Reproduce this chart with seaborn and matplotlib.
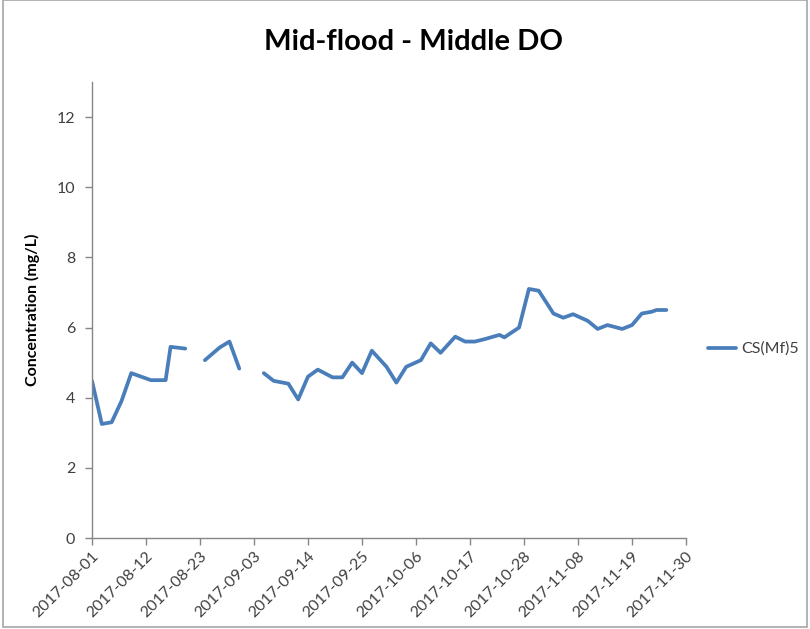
import matplotlib
matplotlib.use("Agg")
import matplotlib.pyplot as plt
from matplotlib.lines import Line2D
from matplotlib.patches import Rectangle
import seaborn as sns
import pandas as pd

# ---- data ----
dates = [
    "2017-08-01", "2017-08-03", "2017-08-05", "2017-08-07", "2017-08-09",
    "2017-08-10", "2017-08-13", "2017-08-16", "2017-08-17", "2017-08-20",
    "2017-08-24", "2017-08-27", "2017-08-29", "2017-08-31",
    "2017-09-05", "2017-09-07", "2017-09-10", "2017-09-12", "2017-09-14",
    "2017-09-16", "2017-09-19", "2017-09-21", "2017-09-23", "2017-09-25",
    "2017-09-27", "2017-09-30", "2017-10-02", "2017-10-04", "2017-10-07",
    "2017-10-09", "2017-10-11", "2017-10-14", "2017-10-16", "2017-10-18",
    "2017-10-20", "2017-10-23", "2017-10-24", "2017-10-27", "2017-10-29",
    "2017-10-31", "2017-11-03", "2017-11-05", "2017-11-07", "2017-11-10",
    "2017-11-12", "2017-11-14", "2017-11-17", "2017-11-19", "2017-11-21",
    "2017-11-23", "2017-11-24", "2017-11-26",
]
values = [
    4.48, 3.25, 3.30, 3.90, 4.70, 4.65, 4.50, 4.50, 5.45, 5.40,
    5.07, 5.43, 5.60, 4.83,
    4.70, 4.48, 4.40, 3.95, 4.60, 4.80, 4.58, 4.58, 5.00, 4.70,
    5.34, 4.88, 4.43, 4.88, 5.07, 5.55, 5.28, 5.74, 5.60, 5.60,
    5.67, 5.79, 5.72, 6.00, 7.10, 7.05, 6.40, 6.28, 6.38, 6.19,
    5.96, 6.07, 5.96, 6.07, 6.40, 6.45, 6.50, 6.50,
]
# contiguous runs (gaps in the record between them)
segment = [0] * 10 + [1] * 4 + [2] * 38

tick_labels = ["2017-08-01", "2017-08-12", "2017-08-23", "2017-09-03",
               "2017-09-14", "2017-09-25", "2017-10-06", "2017-10-17",
               "2017-10-28", "2017-11-08", "2017-11-19", "2017-11-30"]
y_ticks = [0, 2, 4, 6, 8, 10, 12]
series_name = "CS(Mf)5"
title = "Mid-flood - Middle DO"
y_label = "Concentration (mg/L)"

df = pd.DataFrame({"date": pd.to_datetime(dates), "value": values, "segment": segment})

# ---- style ----
sns.set_style("white")
plt.rcParams["font.family"] = ["Lato", "DejaVu Sans"]

line_color = "#4A7EBB"
axis_color = "#868686"
text_color = "#404040"

fig = plt.figure(figsize=(8.10, 6.29), dpi=100)
ax = fig.add_axes([92 / 810, 1 - 538 / 629, 594 / 810, (538 - 82) / 629])

sns.lineplot(data=df, x="date", y="value", units="segment", estimator=None,
             color=line_color, linewidth=2.7, ax=ax, legend=False)

ax.set_xlim(pd.Timestamp(tick_labels[0]), pd.Timestamp(tick_labels[-1]))
ax.set_ylim(0, 13)
ax.set_yticks(y_ticks)
ax.set_yticklabels([str(v) for v in y_ticks])
ax.set_xticks(pd.to_datetime(tick_labels))
ax.set_xticklabels(tick_labels, rotation=45, ha="right", rotation_mode="anchor")

for side in ["top", "right"]:
    ax.spines[side].set_visible(False)
for side in ["left", "bottom"]:
    ax.spines[side].set_color(axis_color)
    ax.spines[side].set_linewidth(1.0)
ax.tick_params(axis="both", direction="out", length=5, width=1.0, color=axis_color,
               labelsize=11.5, labelcolor=text_color, left=True, bottom=True)
ax.tick_params(axis="y", pad=7)
ax.tick_params(axis="x", pad=3)

ax.set_xlabel("")
ax.set_ylabel(y_label, fontsize=11.5, fontweight="bold", color="black", labelpad=12)
ax.grid(False)

fig.text(414 / 810, 1 - 42 / 629, title, ha="center", va="center",
         fontsize=21, fontweight="bold", color="black")

handle = Line2D([], [], color=line_color, linewidth=2.7)
fig.legend([handle], [series_name], loc="center left",
           bbox_to_anchor=(697 / 810, 1 - 349 / 629), frameon=False,
           fontsize=11.5, handlelength=1.75, handletextpad=0.3,
           borderaxespad=0.3, labelcolor=text_color)

fig.patches.append(Rectangle((3 / 810, 2 / 629), 804 / 810, 627 / 629,
                             transform=fig.transFigure, fill=False,
                             edgecolor="#A6A6A6", linewidth=1.2))

fig.savefig("out.png", dpi=100, facecolor="white")
